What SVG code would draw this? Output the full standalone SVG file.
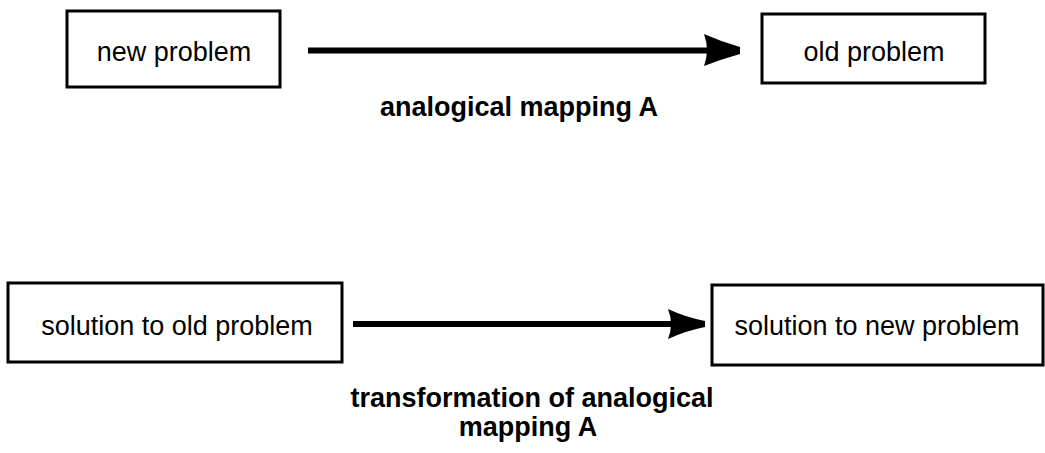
<svg xmlns="http://www.w3.org/2000/svg" width="1045" height="453" viewBox="0 0 1045 453">
  <style>
    .box { fill: #ffffff; stroke: #000000; stroke-width: 3; }
    .txt { font-family: "Liberation Sans", Arial, Helvetica, sans-serif; font-size: 27px; fill: #000000; text-anchor: middle; }
    .lbl { font-family: "Liberation Sans", Arial, Helvetica, sans-serif; font-size: 27px; font-weight: bold; fill: #000000; text-anchor: middle; }
    .shaft { stroke: #000000; stroke-width: 6; fill: none; }
    .head { fill: #000000; }
  </style>
  <rect width="1045" height="453" fill="#ffffff"/>

  <g id="new-problem">
    <rect class="box" x="67" y="11" width="213" height="76"/>
    <text class="txt" x="174" y="61">new problem</text>
  </g>

  <g id="old-problem">
    <rect class="box" x="762" y="14" width="223" height="69"/>
    <text class="txt" x="874" y="61">old problem</text>
  </g>

  <g id="solution-old">
    <rect class="box" x="8" y="283" width="334" height="79"/>
    <text class="txt" x="177" y="335">solution to old problem</text>
  </g>

  <g id="solution-new">
    <rect class="box" x="712" y="285" width="331" height="80"/>
    <text class="txt" x="877" y="335">solution to new problem</text>
  </g>

  <g id="connectors">
    <line class="shaft" x1="308" y1="50.5" x2="712" y2="50.5"/>
    <path class="head" d="M704,34 Q722,42 740,47 L740,54 Q722,59 704,66 Q710,50 704,34 Z"/>
    <line class="shaft" x1="353" y1="324" x2="675" y2="324"/>
    <path class="head" d="M668,309 Q685,317 705,321 L705,327 Q685,331 668,339 Q674,324 668,309 Z"/>
  </g>

  <g id="labels">
    <text class="lbl" x="519" y="116">analogical mapping A</text>
    <text class="lbl" x="532" y="407">transformation of analogical</text>
    <text class="lbl" x="528" y="436">mapping A</text>
  </g>
</svg>
